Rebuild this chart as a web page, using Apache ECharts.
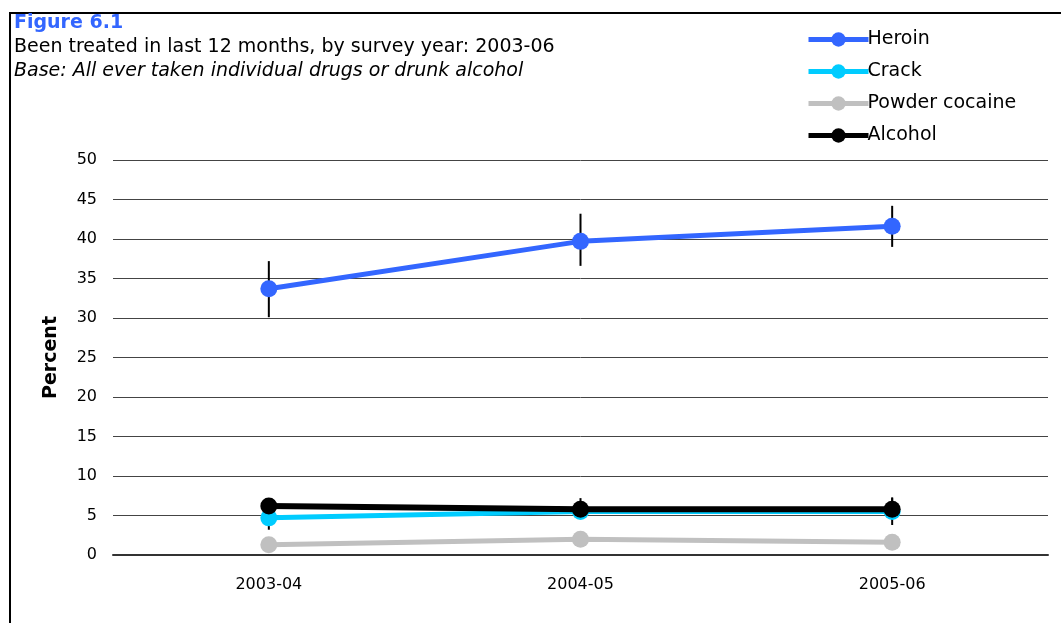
<!DOCTYPE html>
<html>
<head>
<meta charset="utf-8">
<script src="https://cdn.jsdelivr.net/npm/echarts@6/dist/echarts.min.js"></script>
<style>
html,body{margin:0;padding:0;background:#fff;}
#c{width:1061px;height:623px;}
</style>
</head>
<body>
<div id="c"></div>
<script>
const categories = ['2003-04', '2004-05', '2005-06'];
const heroin = [33.7, 39.7, 41.6];
const heroinLow = [30.1, 36.6, 39.0];
const heroinHigh = [37.2, 43.2, 44.2];
const crack = [4.7, 5.5, 5.5];
const crackLow = [3.2, 4.8, 3.8];
const crackHigh = [6.2, 6.6, 7.2];
const powder = [1.3, 2.0, 1.6];
const powderLow = [0.9, 1.4, 1.1];
const powderHigh = [1.7, 2.6, 2.1];
const alcohol = [6.2, 5.8, 5.8];
const alcoholLow = [5.6, 4.8, 4.9];
const alcoholHigh = [6.8, 7.2, 7.3];
const yTicks = {min: 0, max: 50, interval: 5};

const FONT = 'DejaVu Sans';
const chart = echarts.init(document.getElementById('c'), null, {renderer: 'canvas'});

function errData(lo, hi) {
  return categories.map((c, i) => [i, lo[i], hi[i]]);
}
function errSeries(lo, hi, z) {
  return {
    type: 'custom',
    silent: true,
    z: z,
    data: errData(lo, hi),
    encode: {x: 0, y: [1, 2]},
    renderItem: function (params, api) {
      const p1 = api.coord([api.value(0), api.value(1)]);
      const p2 = api.coord([api.value(0), api.value(2)]);
      return {
        type: 'line',
        shape: {x1: p1[0], y1: p1[1], x2: p2[0], y2: p2[1]},
        style: {stroke: '#000', lineWidth: 2}
      };
    }
  };
}
function lineSeries(name, data, color, width, z) {
  return {
    name: name, type: 'line', data: data, z: z,
    symbol: 'circle', symbolSize: 17,
    lineStyle: {color: color, width: width},
    itemStyle: {color: color},
    emphasis: {disabled: true}
  };
}

chart.setOption({
  animation: false,
  graphic: [
    {type: 'rect', shape: {x: 10, y: 13, width: 1100, height: 700}, style: {fill: 'none', stroke: '#000', lineWidth: 2}, z: 0},
    {type: 'text', x: 14, y: 23, style: {text: 'Figure 6.1', fontFamily: FONT, fontSize: 19, fontWeight: 'bold', fill: '#3366FF', verticalAlign: 'middle'}},
    {type: 'text', x: 14, y: 47, style: {text: 'Been treated in last 12 months, by survey year: 2003-06', fontFamily: FONT, fontSize: 19, fill: '#000', verticalAlign: 'middle'}},
    {type: 'text', x: 14, y: 71, style: {text: 'Base: All ever taken individual drugs or drunk alcohol', fontFamily: FONT, fontSize: 19, fontStyle: 'italic', fill: '#000', verticalAlign: 'middle'}}
  ],
  legend: {
    orient: 'vertical',
    left: 801, top: 25,
    itemWidth: 60, itemHeight: 18, itemGap: 13,
    lineStyle: {width: 5},
    textStyle: {fontFamily: FONT, fontSize: 19, color: '#000', padding: [0, 0, 0, -6]},
    data: ['Heroin', 'Crack', 'Powder cocaine', 'Alcohol']
  },
  grid: {left: 113, right: 13, top: 160, bottom: 68, containLabel: false},
  xAxis: {
    type: 'category', data: categories, boundaryGap: true,
    axisLine: {show: true, lineStyle: {color: '#333', width: 2}},
    axisTick: {show: false},
    axisLabel: {fontFamily: FONT, fontSize: 16, color: '#000', margin: 22}
  },
  yAxis: {
    type: 'value', min: yTicks.min, max: yTicks.max, interval: yTicks.interval,
    name: 'Percent', nameLocation: 'middle', nameGap: 52, nameRotate: 90,
    nameTextStyle: {fontFamily: FONT, fontSize: 19, fontWeight: 'bold', color: '#000'},
    axisLine: {show: false}, axisTick: {show: false},
    splitLine: {lineStyle: {color: '#444', width: 1}},
    axisLabel: {fontFamily: FONT, fontSize: 16, color: '#000', margin: 16}
  },
  series: [
    errSeries(heroinLow, heroinHigh, 1),
    errSeries(crackLow, crackHigh, 1),
    errSeries(powderLow, powderHigh, 1),
    errSeries(alcoholLow, alcoholHigh, 1),
    lineSeries('Powder cocaine', powder, '#C0C0C0', 5, 2),
    lineSeries('Crack', crack, '#00CCFF', 5, 3),
    lineSeries('Alcohol', alcohol, '#000000', 6, 4),
    lineSeries('Heroin', heroin, '#3366FF', 5, 5)
  ]
});
</script>
</body>
</html>
